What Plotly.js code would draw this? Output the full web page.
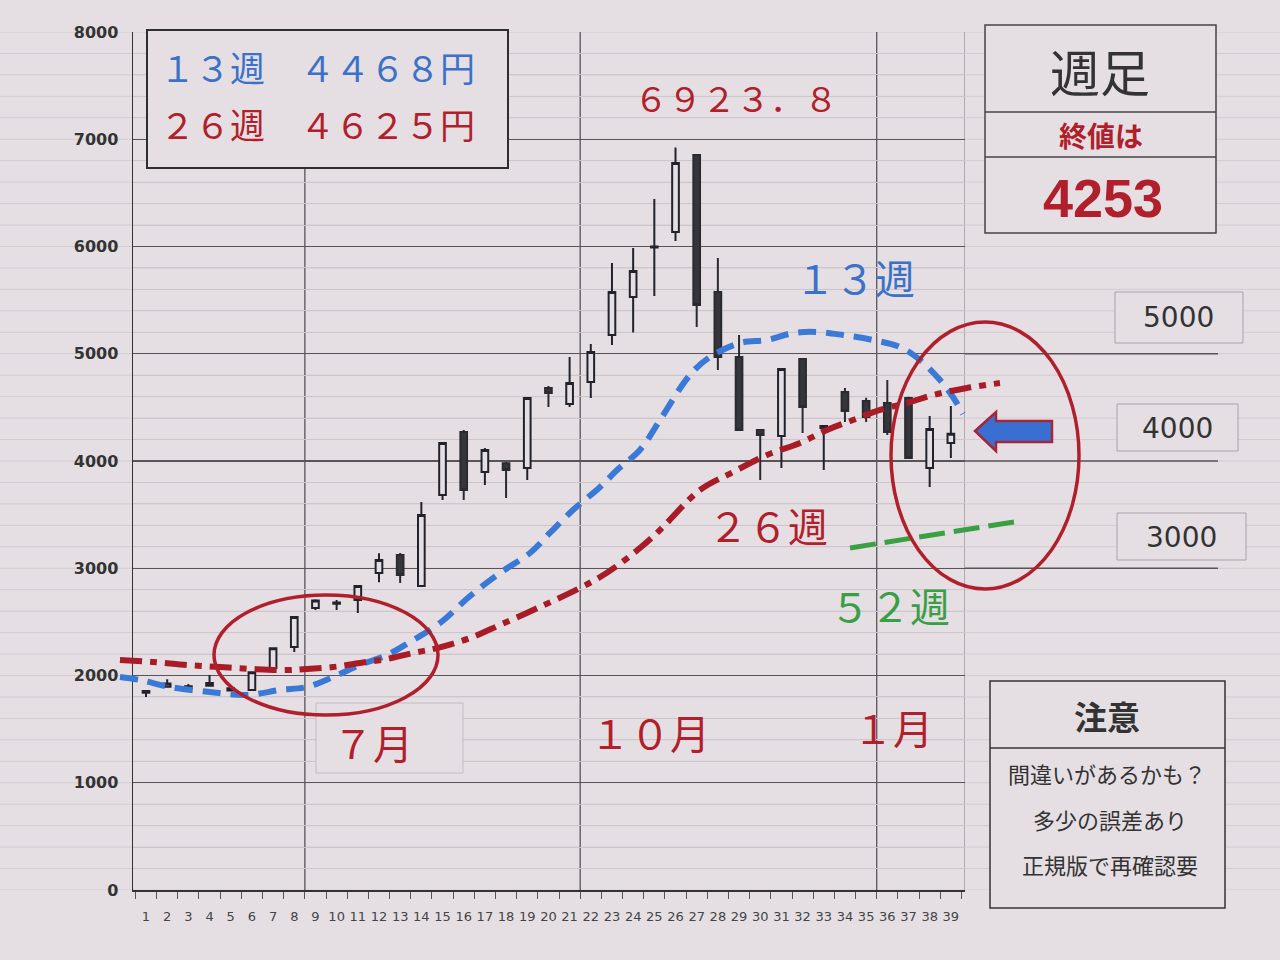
<!DOCTYPE html>
<html><head><meta charset="utf-8">
<script src="https://cdn.plot.ly/plotly-3.0.1.min.js"></script>
<style>html,body{margin:0;padding:0;background:#e5dfe4;}#chart{width:1280px;height:960px;}</style>
</head><body><div id="chart"></div>
<script>
// ---- data ----
const weeks = [1,2,3,4,5,6,7,8,9,10,11,12,13,14,15,16,17,18,19,20,21,22,23,24,25,26,27,28,29,30,31,32,33,34,35,36,37,38,39];
const weekLabels = ['1','2','3','4','5','6','7','8','9','10','11','12','13','14','15','16','17','18','19','20','21','22','23','24','25','26','27','28','29','30','31','32','33','34','35','36','37','38','39'];
const openP  = [1840,1895,1880,1905,1860,1865,2070,2266,2630,2670,2705,2956,3124,2835,3683,4270,3897,3980,3935,4680,4531,4737,5175,5529,5990,6135,6853,5576,4970,4289,4233,4951,4308,4643,4559,4541,4587,3935,4168];
const highP  = [1860,1965,1920,2005,1900,2035,2260,2545,2710,2705,2840,3140,3142,3618,4175,4290,4121,3990,4590,4700,4970,5091,5846,5986,6443,6923.8,6853,5893,5175,4289,4860,4960,4326,4681,4590,4755,4600,4420,4513];
const lowP   = [1800,1895,1870,1905,1850,1860,2065,2220,2610,2610,2583,2870,2862,2835,3636,3636,3776,3655,3823,4503,4503,4587,5082,5198,5538,6051,5249,4848,4289,3823,3935,4261,3916,4364,4364,4242,4028,3758,4028];
const closeP = [1855,1925,1900,1930,1880,2030,2255,2545,2700,2680,2835,3077,2937,3497,4168,3730,4103,3915,4587,4635,4727,5016,5576,5772,6000,6779,5455,4970,4289,4242,4858,4503,4326,4466,4410,4270,4028,4298,4253];

// moving-average curves as drawn (week position, price)
const ma13X = [-0.23,0.72,2.13,4.02,5.77,7.33,8.60,9.83,11.10,12.38,13.46,14.88,16.30,17.71,19.13,20.07,21.16,22.44,23.24,24.32,25.27,26.68,27.63,29.05,30.32,31.55,32.68,33.91,35.32,36.60,37.54,38.49,39.10,39.57];
const ma13Y = [1986,1958,1893,1846,1818,1865,1893,1986,2098,2191,2312,2490,2741,2956,3142,3329,3543,3758,3916,4103,4382,4802,4970,5100,5128,5193,5203,5175,5128,5063,4942,4755,4597,4438];
const ma26X = [-0.23,1.33,2.94,4.49,6.05,7.66,8.60,9.83,11.10,12.38,13.61,14.74,16.30,17.71,19.60,21.49,22.44,23.29,24.32,25.27,27.16,28.72,30.32,31.88,33.15,34.38,35.66,36.93,38.16,39.76,41.32];
const ma26Y = [2145,2126,2098,2079,2061,2051,2061,2079,2117,2154,2210,2256,2350,2471,2639,2816,2918,3030,3189,3357,3730,3897,4056,4168,4289,4382,4476,4541,4615,4681,4727];
const ma52X = [34.24,38.25,42.27];
const ma52Y = [3189,3310,3441];

const yTicks = [0,1000,2000,3000,4000,5000,6000,7000,8000];
const monthLines = [8.5,21.5,35.5];
const extLevels = [3000,4000,5000];

// ---- geometry ----
const W=1280,H=960,PL=110,PR=1085,PT=32,PB=890,AXL=133,AXR=965;
const X0=0.386,X1=39.668;
const scale=(AXR-AXL)/(X1-X0);
const fx=x=>(x-PL)/(PR-PL);
const fy=y=>(PB-y)/(PB-PT);
const BG='#e5dfe4';
const RED='#b01f2b', BLUE='#3b72c8', GREEN='#3a9e45', DARK='#333';
const JP='Noto Sans CJK JP';

const traces=[
 {type:'candlestick',x:weeks,open:openP,high:highP,low:lowP,close:closeP,xaxis:'x',yaxis:'y',
  increasing:{line:{color:'#22222c',width:2},fillcolor:BG},
  decreasing:{line:{color:'#2a2a30',width:2},fillcolor:'#35353b'},
  whiskerwidth:0,showlegend:false,hoverinfo:'skip'},
 {type:'scatter',mode:'lines',x:ma13X,y:ma13Y,xaxis:'x2',yaxis:'y2',line:{color:'#3a7ad6',width:6,dash:'18px,10px',shape:'spline'},showlegend:false,hoverinfo:'skip'},
 {type:'scatter',mode:'lines',x:ma26X,y:ma26Y,xaxis:'x2',yaxis:'y2',line:{color:'#a81c28',width:6,dash:'22px,8px,7px,8px',shape:'spline'},showlegend:false,hoverinfo:'skip'},
 {type:'scatter',mode:'lines',x:ma52X,y:ma52Y,xaxis:'x2',yaxis:'y2',line:{color:'#3aa043',width:5,dash:'26px,9px'},showlegend:false,hoverinfo:'skip'}
];

const shapes=[];
// faint spreadsheet rows
for(let v=0;v<=8000;v+=200){
  shapes.push({type:'line',xref:'paper',yref:'y',x0:fx(0),x1:fx(1280),y0:v,y1:v,line:{color:'#d2cbd2',width:1},layer:'below'});
}
extLevels.forEach(v=>shapes.push({type:'line',xref:'paper',yref:'y',x0:fx(AXR),x1:fx(1218),y0:v,y1:v,line:{color:'#58545a',width:1.3},layer:'below'}));
monthLines.forEach(m=>shapes.push({type:'line',xref:'x',yref:'y',x0:m,x1:m,y0:0,y1:8000,line:{color:'#58545a',width:1.3},layer:'below'}));
shapes.push({type:'line',xref:'x',yref:'y',x0:X1,x1:X1,y0:0,y1:8000,line:{color:'#7a757b',width:1},layer:'below'});

function box(x0,y0,x1,y1,col,w){shapes.push({type:'rect',xref:'paper',yref:'paper',x0:fx(x0),x1:fx(x1),y0:fy(y1),y1:fy(y0),fillcolor:BG,line:{color:col,width:w},layer:'above'});}
function hline(x0,x1,y,col,w){shapes.push({type:'line',xref:'paper',yref:'paper',x0:fx(x0),x1:fx(x1),y0:fy(y),y1:fy(y),line:{color:col,width:w},layer:'above'});}
box(147,30,508,168,'#2e2e2e',2);
box(985,25,1216,233,'#444',1.5); hline(985,1216,112,'#444',1.5); hline(985,1216,157,'#444',1.5);
box(1115,292,1243,343,'#a9a3aa',1);
box(1117,404,1238,451,'#a9a3aa',1);
box(1117,513,1246,560,'#a9a3aa',1);
box(316,703,463,773,'#c2bbc3',1);
box(990,681,1225,908,'#333',1.5); hline(990,1225,748,'#333',1.5);
// ellipses
shapes.push({type:'circle',xref:'paper',yref:'paper',x0:fx(214),x1:fx(438),y0:fy(715),y1:fy(595),line:{color:'#b0202c',width:3.5},layer:'above'});
shapes.push({type:'circle',xref:'paper',yref:'paper',x0:fx(891),x1:fx(1079),y0:fy(589),y1:fy(322),line:{color:'#b0202c',width:3.5},layer:'above'});
// arrow
const arr=[[975,431],[996,412],[996,421],[1052,421],[1052,442],[996,442],[996,451]];
shapes.push({type:'path',xref:'paper',yref:'paper',path:'M'+arr.map(p=>fx(p[0]).toFixed(5)+','+fy(p[1]).toFixed(5)).join(' L')+' Z',fillcolor:'#3a6fd2',line:{color:'#a3273a',width:2.5},layer:'above'});

const annotations=[];
function ann(t,x,y,size,color,o){o=o||{};annotations.push({text:t,xref:'paper',yref:'paper',x:fx(x),y:fy(y),xanchor:o.xa||'center',yanchor:'middle',showarrow:false,
  font:{family:o.fam||JP,size:size,color:color,weight:o.w||'normal'}});}
ann('１３週　４４６８円',158,66,35,BLUE,{xa:'left'});
ann('２６週　４６２５円',158,123,35,RED,{xa:'left'});
ann('６９２３．８',736,97,34,RED);
ann('１３週',855,277,40,BLUE);
ann('２６週',768,525,40,RED);
ann('５２週',890,605,40,GREEN);
ann('７月',373,742,40,RED);
ann('１０月',650,732,40,RED);
ann('１月',893,727,40,RED);
ann('週足',1100,70,50,'#333');
ann('終値は',1101,135,28,RED,{w:'bold'});
ann('4253',1103,198,54,RED,{fam:'Liberation Sans',w:'bold'});
ann('5000',1178,317,28,'#333',{fam:'DejaVu Sans'});
ann('4000',1177,428,28,'#333',{fam:'DejaVu Sans'});
ann('3000',1181,537,28,'#333',{fam:'DejaVu Sans'});
ann('注意',1107,716,33,'#333',{w:'bold'});
ann('間違いがあるかも？',1107,773,22,'#333');
ann('多少の誤差あり',1110,819,22,'#333');
ann('正規版で再確認要',1110,864,22,'#333');

const layout={
 width:W,height:H,margin:{l:PL,r:W-PR,t:PT,b:H-PB,pad:0},
 paper_bgcolor:BG,plot_bgcolor:'rgba(0,0,0,0)',showlegend:false,boxgap:0.55,
 xaxis:{domain:[(AXL-PL)/(PR-PL),(AXR-PL)/(PR-PL)],range:[X0,X1],tickmode:'array',tickvals:weeks,ticktext:weekLabels,ticks:'',
   showgrid:false,zeroline:false,showline:true,linecolor:'#333',linewidth:2,
   tickfont:{family:'DejaVu Sans',size:13,color:'#444'},ticklabelstandoff:13,
   minor:{ticks:'outside',ticklen:7,tickcolor:'#555',tickwidth:1,tick0:0.5,dtick:1,showgrid:false},
   rangeslider:{visible:false},fixedrange:true,anchor:'y'},
 yaxis:{range:[0,8000],tickmode:'array',tickvals:yTicks,ticks:'',showgrid:true,gridcolor:'#58545a',gridwidth:1.3,
   zeroline:false,showline:true,linecolor:'#333',linewidth:1.5,
   tickfont:{family:'DejaVu Sans',size:16,color:'#333',weight:'bold'},ticklabelstandoff:10,
   minor:{dtick:200,tick0:0,showgrid:true,gridcolor:'#cdc6cd',gridwidth:1},fixedrange:true,anchor:'x'},
 xaxis2:{domain:[0,1],range:[X0-(AXL-PL)/scale,X1+(PR-AXR)/scale],visible:false,anchor:'y2',fixedrange:true},
 yaxis2:{domain:[0,1],range:[0,8000],visible:false,anchor:'x2',fixedrange:true},
 shapes:shapes,annotations:annotations
};
Plotly.newPlot('chart',traces,layout,{staticPlot:true,displayModeBar:false});
</script></body></html>
